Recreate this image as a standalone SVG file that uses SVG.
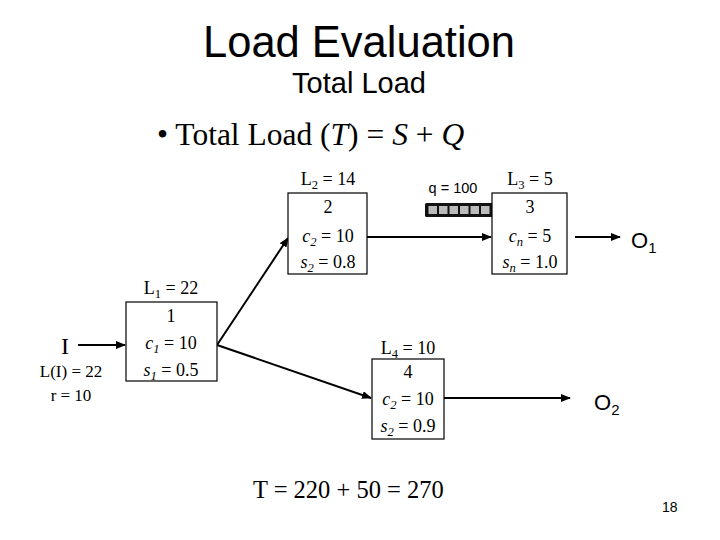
<svg xmlns="http://www.w3.org/2000/svg" width="720" height="540" viewBox="0 0 720 540">
<style>
.a{font-family:"Liberation Sans",Arial,sans-serif;fill:#000}
.t{font-family:"Liberation Serif","Times New Roman",serif;fill:#000}
.n{font-size:18px;text-anchor:middle}
.box{fill:#fff;stroke:#000;stroke-width:1.2}
.c{stroke:#000;stroke-width:2;fill:none}
.sub{font-size:70%}
.cell{fill:#bbb}
</style>
<defs>
<marker id="ah" markerWidth="10" markerHeight="8" refX="9" refY="4" orient="auto" markerUnits="userSpaceOnUse">
<path d="M0,0 L10,4 L0,8 Z" fill="#000"/>
</marker>
</defs>
<rect width="720" height="540" fill="#fff"/>
<text class="a" x="359" y="57" font-size="43.5" text-anchor="middle">Load Evaluation</text>
<text class="a" x="359" y="93" font-size="29" text-anchor="middle">Total Load</text>
<text class="t" x="157" y="145" font-size="31.5">• Total Load (<tspan font-style="italic">T</tspan>) = <tspan font-style="italic">S</tspan> + <tspan font-style="italic">Q</tspan></text>

<g id="connectors">
<line class="c" x1="78" y1="345" x2="125" y2="345" marker-end="url(#ah)"/>
<line class="c" x1="217" y1="345" x2="288" y2="238" marker-end="url(#ah)"/>
<line class="c" x1="217" y1="345" x2="371" y2="398" marker-end="url(#ah)"/>
<line class="c" x1="367" y1="237" x2="491" y2="237" marker-end="url(#ah)"/>
<line class="c" x1="575" y1="237" x2="620" y2="237" marker-end="url(#ah)"/>
<line class="c" x1="444" y1="398" x2="570" y2="398" marker-end="url(#ah)"/>
</g>

<g id="input">
<text class="t" x="65" y="354" font-size="24" text-anchor="middle">I</text>
<text class="t" x="71" y="377" font-size="17" text-anchor="middle">L(I) = 22</text>
<text class="t" x="71" y="401" font-size="17" text-anchor="middle">r = 10</text>
</g>

<g id="node1">
<text class="t n" x="171" y="294">L<tspan class="sub" dy="4">1</tspan><tspan dy="-4"> = 22</tspan></text>
<rect class="box" x="126" y="302" width="91" height="79"/>
<text class="t n" x="171" y="322">1</text>
<text class="t n" x="171" y="349"><tspan font-style="italic">c</tspan><tspan class="sub" dy="4" font-style="italic">1</tspan><tspan dy="-4"> = 10</tspan></text>
<text class="t n" x="171" y="376"><tspan font-style="italic">s</tspan><tspan class="sub" dy="4" font-style="italic">1</tspan><tspan dy="-4"> = 0.5</tspan></text>
</g>

<g id="node2">
<text class="t n" x="328" y="185">L<tspan class="sub" dy="4">2</tspan><tspan dy="-4"> = 14</tspan></text>
<rect class="box" x="288" y="193" width="79" height="81"/>
<text class="t n" x="328" y="213">2</text>
<text class="t n" x="328" y="242"><tspan font-style="italic">c</tspan><tspan class="sub" dy="4" font-style="italic">2</tspan><tspan dy="-4"> = 10</tspan></text>
<text class="t n" x="328" y="268"><tspan font-style="italic">s</tspan><tspan class="sub" dy="4" font-style="italic">2</tspan><tspan dy="-4"> = 0.8</tspan></text>
</g>

<g id="queue">
<text class="a" x="453" y="193" font-size="14.5" text-anchor="middle">q = 100</text>
<rect x="425" y="203" width="68" height="14" fill="#111" rx="1.5"/>
<rect class="cell" x="428.5" y="206" width="8.5" height="8"/>
<rect class="cell" x="439" y="206" width="8.5" height="8"/>
<rect class="cell" x="449.5" y="206" width="8.5" height="8"/>
<rect class="cell" x="460" y="206" width="8.5" height="8"/>
<rect class="cell" x="470.5" y="206" width="8.5" height="8"/>
<rect class="cell" x="481" y="206" width="8.5" height="8"/>
</g>

<g id="node3">
<text class="t n" x="530" y="185">L<tspan class="sub" dy="4">3</tspan><tspan dy="-4"> = 5</tspan></text>
<rect class="box" x="492" y="193" width="75" height="81"/>
<text class="t n" x="530" y="213">3</text>
<text class="t n" x="530" y="242"><tspan font-style="italic">c</tspan><tspan class="sub" dy="4" font-style="italic">n</tspan><tspan dy="-4"> = 5</tspan></text>
<text class="t n" x="530" y="268"><tspan font-style="italic">s</tspan><tspan class="sub" dy="4" font-style="italic">n</tspan><tspan dy="-4"> = 1.0</tspan></text>
</g>

<g id="node4">
<text class="t n" x="408" y="354">L<tspan class="sub" dy="4">4</tspan><tspan dy="-4"> = 10</tspan></text>
<rect class="box" x="372" y="359" width="72" height="80"/>
<text class="t n" x="408" y="378">4</text>
<text class="t n" x="408" y="405"><tspan font-style="italic">c</tspan><tspan class="sub" dy="4" font-style="italic">2</tspan><tspan dy="-4"> = 10</tspan></text>
<text class="t n" x="408" y="432"><tspan font-style="italic">s</tspan><tspan class="sub" dy="4" font-style="italic">2</tspan><tspan dy="-4"> = 0.9</tspan></text>
</g>

<g id="out1">
<text class="a" x="631" y="248" font-size="22">O<tspan font-size="15" dy="5">1</tspan></text>
</g>
<g id="out2">
<text class="a" x="594" y="410" font-size="22">O<tspan font-size="15" dy="5">2</tspan></text>
</g>

<text class="t" x="253" y="498" font-size="24.5">T = 220 + 50 = 270</text>
<text class="a" x="662" y="512" font-size="14">18</text>
</svg>
